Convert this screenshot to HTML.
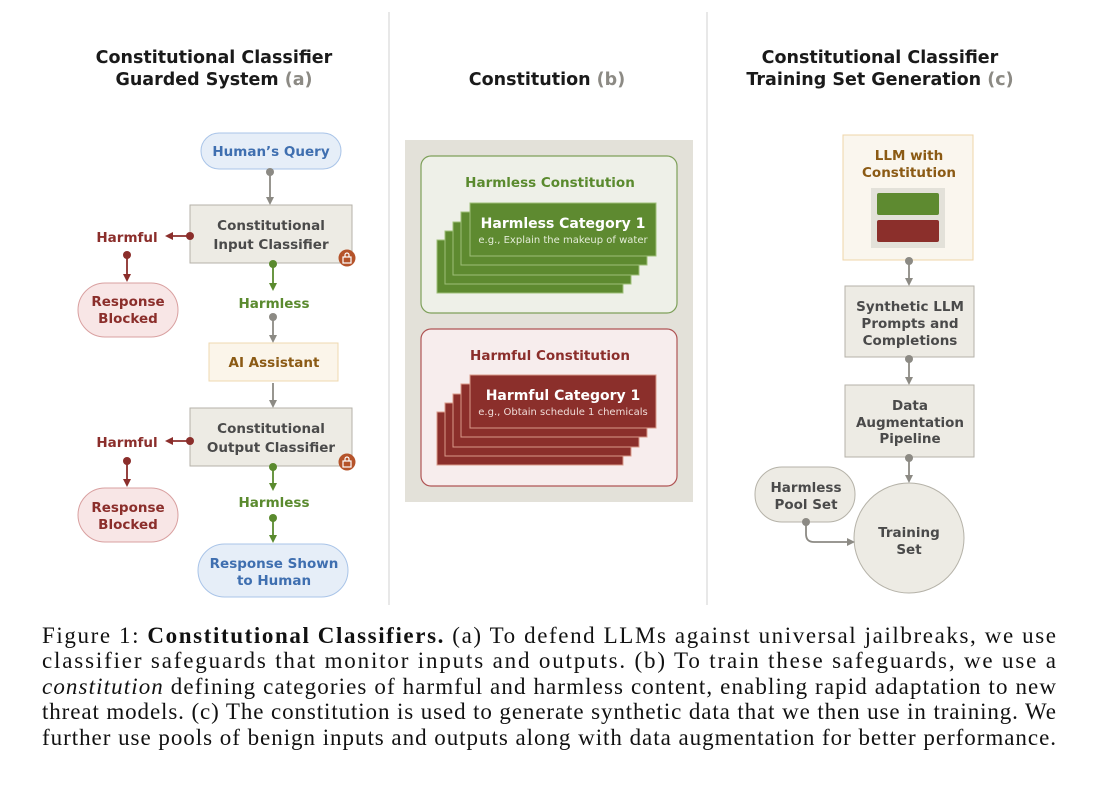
<!DOCTYPE html>
<html><head><meta charset="utf-8"><style>
html,body{margin:0;padding:0;background:#fff;}
svg{display:block;}
.t{font-family:"DejaVu Sans","Liberation Sans",sans-serif;font-weight:bold;}
.cap{font-family:"Liberation Serif",serif;font-size:23px;fill:#111;}
</style></head><body>
<svg width="1104" height="789" viewBox="0 0 1104 789" xmlns="http://www.w3.org/2000/svg">
<defs>
<marker id="ag" markerWidth="8" markerHeight="8" refX="6" refY="4" orient="auto" markerUnits="userSpaceOnUse"><path d="M0,0 L8,4 L0,8 z" fill="#8c8a84"/></marker>
<marker id="ar" markerWidth="8" markerHeight="8" refX="6" refY="4" orient="auto" markerUnits="userSpaceOnUse"><path d="M0,0 L8,4 L0,8 z" fill="#8b2e2b"/></marker>
<marker id="agr" markerWidth="8" markerHeight="8" refX="6" refY="4" orient="auto" markerUnits="userSpaceOnUse"><path d="M0,0 L8,4 L0,8 z" fill="#5a8a2e"/></marker>
</defs>
<line x1="389" y1="12" x2="389" y2="605" stroke="#d8d8d8" stroke-width="1.2"/>
<line x1="707" y1="12" x2="707" y2="605" stroke="#d8d8d8" stroke-width="1.2"/>

<g class="t" font-size="17.5" text-anchor="middle" fill="#1a1a1a">
<text x="214" y="63">Constitutional Classifier</text>
<text x="214" y="85">Guarded System <tspan fill="#8c8a84">(a)</tspan></text>
<text x="547" y="85">Constitution <tspan fill="#8c8a84">(b)</tspan></text>
<text x="880" y="63">Constitutional Classifier</text>
<text x="880" y="85">Training Set Generation <tspan fill="#8c8a84">(c)</tspan></text>
</g>

<g class="t" font-size="13.5" text-anchor="middle">
<rect x="201" y="133" width="140" height="36" rx="18" fill="#e6eef8" stroke="#a9c4e8"/>
<text x="271" y="156" fill="#3f6fb0">Human’s Query</text>
<circle cx="270" cy="172" r="4" fill="#8c8a84"/>
<line x1="270" y1="172" x2="270" y2="203" stroke="#8c8a84" stroke-width="1.8" marker-end="url(#ag)"/>
<rect x="190" y="205" width="162" height="58" fill="#edebe4" stroke="#b5b2a8"/>
<text x="271" y="230" fill="#4a4a4a">Constitutional</text>
<text x="271" y="249" fill="#4a4a4a">Input Classifier</text>
<circle cx="347" cy="258" r="8.5" fill="#b5532a"/>
<rect x="343" y="257" width="8" height="6" fill="none" stroke="#fff" stroke-width="1.2"/>
<path d="M345,257 v-2 a2,2 0 0 1 4,0 v2" fill="none" stroke="#fff" stroke-width="1.2"/>
<circle cx="190" cy="236" r="4" fill="#8b2e2b"/>
<line x1="190" y1="236" x2="167" y2="236" stroke="#8b2e2b" stroke-width="1.8" marker-end="url(#ar)"/>
<text x="127" y="242" fill="#8b2e2b">Harmful</text>
<circle cx="127" cy="255" r="4" fill="#8b2e2b"/>
<line x1="127" y1="255" x2="127" y2="280" stroke="#8b2e2b" stroke-width="1.8" marker-end="url(#ar)"/>
<rect x="78" y="283" width="100" height="54" rx="27" fill="#f8e6e6" stroke="#d9a0a0"/>
<text x="128" y="306" fill="#8b2e2b">Response</text>
<text x="128" y="323" fill="#8b2e2b">Blocked</text>
<circle cx="273" cy="264" r="4" fill="#5a8a2e"/>
<line x1="273" y1="264" x2="273" y2="289" stroke="#5a8a2e" stroke-width="1.8" marker-end="url(#agr)"/>
<text x="274" y="308" fill="#5a8a2e">Harmless</text>
<circle cx="273" cy="317" r="4" fill="#8c8a84"/>
<line x1="273" y1="317" x2="273" y2="341" stroke="#8c8a84" stroke-width="1.8" marker-end="url(#ag)"/>
<rect x="209" y="343" width="129" height="38" fill="#fbf5ea" stroke="#efd9b0"/>
<text x="274" y="367" fill="#8b5a14">AI Assistant</text>
<line x1="273" y1="383" x2="273" y2="406" stroke="#8c8a84" stroke-width="1.8" marker-end="url(#ag)"/>
<rect x="190" y="408" width="162" height="58" fill="#edebe4" stroke="#b5b2a8"/>
<text x="271" y="433" fill="#4a4a4a">Constitutional</text>
<text x="271" y="452" fill="#4a4a4a">Output Classifier</text>
<circle cx="347" cy="462" r="8.5" fill="#b5532a"/>
<rect x="343" y="461" width="8" height="6" fill="none" stroke="#fff" stroke-width="1.2"/>
<path d="M345,461 v-2 a2,2 0 0 1 4,0 v2" fill="none" stroke="#fff" stroke-width="1.2"/>
<circle cx="190" cy="441" r="4" fill="#8b2e2b"/>
<line x1="190" y1="441" x2="167" y2="441" stroke="#8b2e2b" stroke-width="1.8" marker-end="url(#ar)"/>
<text x="127" y="447" fill="#8b2e2b">Harmful</text>
<circle cx="127" cy="461" r="4" fill="#8b2e2b"/>
<line x1="127" y1="461" x2="127" y2="485" stroke="#8b2e2b" stroke-width="1.8" marker-end="url(#ar)"/>
<rect x="78" y="488" width="100" height="54" rx="27" fill="#f8e6e6" stroke="#d9a0a0"/>
<text x="128" y="512" fill="#8b2e2b">Response</text>
<text x="128" y="529" fill="#8b2e2b">Blocked</text>
<circle cx="273" cy="467" r="4" fill="#5a8a2e"/>
<line x1="273" y1="467" x2="273" y2="489" stroke="#5a8a2e" stroke-width="1.8" marker-end="url(#agr)"/>
<text x="274" y="507" fill="#5a8a2e">Harmless</text>
<circle cx="273" cy="518" r="4" fill="#5a8a2e"/>
<line x1="273" y1="518" x2="273" y2="541" stroke="#5a8a2e" stroke-width="1.8" marker-end="url(#agr)"/>
<rect x="198" y="544" width="150" height="53" rx="26.5" fill="#e6eef8" stroke="#a9c4e8"/>
<text x="274" y="568" fill="#3f6fb0">Response Shown</text>
<text x="274" y="585" fill="#3f6fb0">to Human</text>
</g>

<rect x="405" y="140" width="288" height="362" fill="#e3e1d9"/>
<rect x="421" y="156" width="256" height="157" rx="10" fill="#eef0e8" stroke="#7ea05a" stroke-width="1.2"/>
<text class="t" x="550" y="187" font-size="13.5" text-anchor="middle" fill="#5a8a2e">Harmless Constitution</text>
<g fill="#5e8a30" stroke="#9dbf78" stroke-width="1">
<rect x="437" y="240" width="186" height="53"/>
<rect x="445" y="231" width="186" height="53"/>
<rect x="453" y="222" width="186" height="53"/>
<rect x="461" y="212" width="186" height="53"/>
<rect x="470" y="203" width="186" height="53"/>
</g>
<text class="t" x="563" y="228" font-size="14" text-anchor="middle" fill="#fff">Harmless Category 1</text>
<text x="563" y="243" font-size="10" font-family="DejaVu Sans,sans-serif" text-anchor="middle" fill="#e4ecd8">e.g., Explain the makeup of water</text>
<rect x="421" y="329" width="256" height="157" rx="10" fill="#f7eded" stroke="#b05555" stroke-width="1.2"/>
<text class="t" x="550" y="360" font-size="13.5" text-anchor="middle" fill="#8b2e2b">Harmful Constitution</text>
<g fill="#8b2f2b" stroke="#d99a8a" stroke-width="1">
<rect x="437" y="412" width="186" height="53"/>
<rect x="445" y="403" width="186" height="53"/>
<rect x="453" y="394" width="186" height="53"/>
<rect x="461" y="384" width="186" height="53"/>
<rect x="470" y="375" width="186" height="53"/>
</g>
<text class="t" x="563" y="400" font-size="14" text-anchor="middle" fill="#fff">Harmful Category 1</text>
<text x="563" y="415" font-size="10" font-family="DejaVu Sans,sans-serif" text-anchor="middle" fill="#f0dcd8">e.g., Obtain schedule 1 chemicals</text>

<g class="t" font-size="13.5" text-anchor="middle">
<rect x="843" y="135" width="130" height="125" fill="#faf6ee" stroke="#efd5a8"/>
<text x="909" y="160" fill="#8b5a14">LLM with</text>
<text x="909" y="177" fill="#8b5a14">Constitution</text>
<rect x="871" y="188" width="74" height="60" fill="#e3e1d9"/>
<rect x="877" y="193" width="62" height="22" rx="2" fill="#5e8a30"/>
<rect x="877" y="220" width="62" height="22" rx="2" fill="#8b2f2b"/>
<circle cx="909" cy="261" r="4" fill="#8c8a84"/>
<line x1="909" y1="261" x2="909" y2="284" stroke="#8c8a84" stroke-width="1.8" marker-end="url(#ag)"/>
<rect x="845" y="286" width="129" height="71" fill="#edebe4" stroke="#b5b2a8"/>
<text x="910" y="311" fill="#4a4a4a">Synthetic LLM</text>
<text x="910" y="328" fill="#4a4a4a">Prompts and</text>
<text x="910" y="345" fill="#4a4a4a">Completions</text>
<circle cx="909" cy="359" r="4" fill="#8c8a84"/>
<line x1="909" y1="359" x2="909" y2="383" stroke="#8c8a84" stroke-width="1.8" marker-end="url(#ag)"/>
<rect x="845" y="385" width="129" height="72" fill="#edebe4" stroke="#b5b2a8"/>
<text x="910" y="410" fill="#4a4a4a">Data</text>
<text x="910" y="427" fill="#4a4a4a">Augmentation</text>
<text x="910" y="443" fill="#4a4a4a">Pipeline</text>
<circle cx="909" cy="458" r="4" fill="#8c8a84"/>
<line x1="909" y1="458" x2="909" y2="481" stroke="#8c8a84" stroke-width="1.8" marker-end="url(#ag)"/>
<circle cx="909" cy="538" r="55" fill="#edebe4" stroke="#b5b2a8"/>
<text x="909" y="537" fill="#4a4a4a">Training</text>
<text x="909" y="554" fill="#4a4a4a">Set</text>
<rect x="755" y="467" width="100" height="55" rx="27" fill="#edebe4" stroke="#b5b2a8"/>
<text x="806" y="492" fill="#4a4a4a">Harmless</text>
<text x="806" y="509" fill="#4a4a4a">Pool Set</text>
<circle cx="806" cy="522" r="4" fill="#8c8a84"/>
<path d="M806,522 V534 Q806,542 814,542 H853" fill="none" stroke="#8c8a84" stroke-width="1.8" marker-end="url(#ag)"/>
</g>

<text class="cap" x="42" y="643" textLength="1014" lengthAdjust="spacing">Figure 1: <tspan font-weight="bold">Constitutional Classifiers.</tspan> (a) To defend LLMs against universal jailbreaks, we use</text>
<text class="cap" x="42" y="668" textLength="1014" lengthAdjust="spacing">classifier safeguards that monitor inputs and outputs.  (b) To train these safeguards, we use a</text>
<text class="cap" x="42" y="694" textLength="1014" lengthAdjust="spacing"><tspan font-style="italic">constitution</tspan> defining categories of harmful and harmless content, enabling rapid adaptation to new</text>
<text class="cap" x="42" y="719" textLength="1014" lengthAdjust="spacing">threat models. (c) The constitution is used to generate synthetic data that we then use in training. We</text>
<text class="cap" x="42" y="745" textLength="1014" lengthAdjust="spacing">further use pools of benign inputs and outputs along with data augmentation for better performance.</text>
</svg>
</body></html>
